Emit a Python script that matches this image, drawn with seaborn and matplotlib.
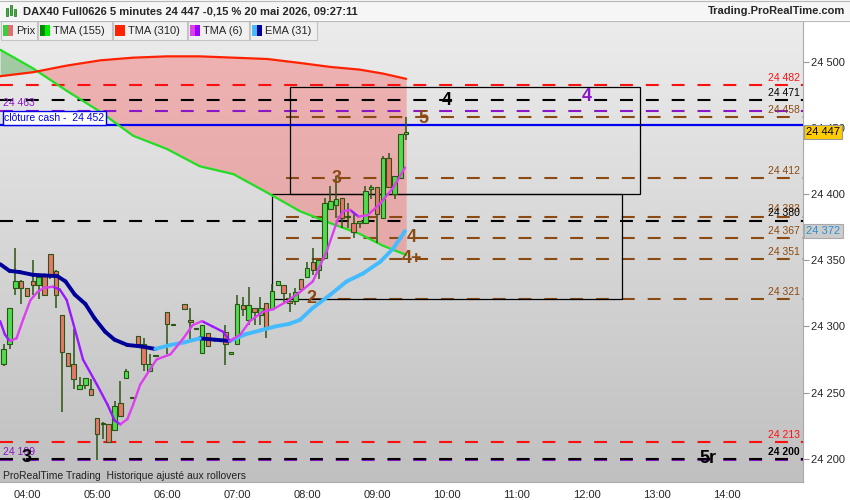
import numpy as np
import pandas as pd
import seaborn as sns
import matplotlib.pyplot as plt
import matplotlib.transforms as mtransforms
from matplotlib.patches import Rectangle
from matplotlib.colors import LinearSegmentedColormap

sns.set_style("white")
plt.rcParams['font.family'] = ['Liberation Sans', 'DejaVu Sans']

# 5 minute candles (DAX40 Full0626)
times = ["03:40", "03:45", "03:50", "03:55", "04:00", "04:05", "04:10", "04:15", "04:20", "04:25",
         "04:30", "04:35", "04:40", "04:45", "04:50", "04:55", "05:00", "05:05", "05:10", "05:15",
         "05:20", "05:25", "05:30", "05:35", "05:40", "05:45", "05:50", "06:00", "06:05", "06:15",
         "06:20", "06:25", "06:30", "06:35", "06:50", "06:55", "07:00", "07:05", "07:10", "07:15",
         "07:20", "07:25", "07:30", "07:35", "07:40", "07:45", "07:50", "07:55", "08:00", "08:05",
         "08:10", "08:15", "08:20", "08:25", "08:30", "08:35", "08:40", "08:45", "08:50", "08:55",
         "09:00", "09:05", "09:10", "09:15", "09:20", "09:25"]
opens = [24272, 24287, 24329, 24334, 24329, 24334, 24331, 24339, 24355, 24342,
         24309, 24280, 24272, 24253, 24256, 24253, 24231, 24227, 24226, 24222,
         24242, 24261, 24246, 24293, 24287, 24266, 24278, 24311, 24301, 24317,
         24305, 24298, 24280, 24295, 24296, 24279, 24287, 24316, 24305, 24314,
         24309, 24318, 24313, 24331, 24331, 24319, 24319, 24336, 24337, 24349,
         24343, 24352, 24389, 24392, 24397, 24383, 24378, 24378, 24378, 24404,
         24405, 24382, 24427, 24400, 24412, 24445]
highs = [24287, 24314, 24359, 24335, 24329, 24350, 24337, 24339, 24355, 24343,
         24309, 24280, 24298, 24262, 24261, 24260, 24231, 24228, 24226, 24244,
         24259, 24268, 24246, 24293, 24291, 24279, 24278, 24311, 24301, 24317,
         24314, 24298, 24301, 24295, 24301, 24281, 24324, 24322, 24330, 24314,
         24322, 24318, 24332, 24334, 24331, 24325, 24329, 24336, 24349, 24359,
         24350, 24397, 24406, 24414, 24397, 24393, 24386, 24380, 24406, 24407,
         24405, 24429, 24431, 24414, 24445, 24458]
lows = [24270, 24283, 24324, 24317, 24323, 24324, 24321, 24324, 24336, 24314,
        24235, 24270, 24253, 24253, 24253, 24248, 24199, 24215, 24213, 24222,
        24232, 24261, 24246, 24287, 24266, 24266, 24278, 24279, 24301, 24313,
        24290, 24298, 24280, 24285, 24271, 24279, 24287, 24308, 24301, 24301,
        24301, 24291, 24313, 24331, 24318, 24311, 24316, 24328, 24337, 24339,
        24336, 24352, 24389, 24382, 24374, 24374, 24367, 24374, 24378, 24396,
        24363, 24382, 24405, 24396, 24412, 24441]
closes = [24283, 24314, 24334, 24329, 24323, 24331, 24337, 24324, 24338, 24324,
          24281, 24270, 24260, 24256, 24261, 24248, 24219, 24226, 24213, 24240,
          24232, 24266, 24246, 24287, 24272, 24272, 24278, 24302, 24301, 24313,
          24303, 24298, 24301, 24285, 24287, 24281, 24317, 24313, 24316, 24311,
          24314, 24298, 24327, 24334, 24325, 24318, 24326, 24328, 24344, 24343,
          24350, 24393, 24395, 24396, 24382, 24383, 24371, 24380, 24402, 24405,
          24385, 24427, 24405, 24414, 24445, 24447]

# slow moving averages, TMA (155) and TMA (310)
slow_times = ["03:37", "04:05", "04:34", "05:03", "05:31", "06:00", "06:28",
              "06:57", "07:26", "07:54", "08:20", "08:45", "09:05", "09:25"]
tma155 = [24509, 24495, 24478, 24462, 24444, 24434, 24421,
          24415, 24401, 24387, 24378, 24370, 24361, 24354]
tma310 = [24489, 24492, 24497, 24501, 24503, 24504, 24504,
          24503, 24502, 24499, 24496, 24494, 24491, 24487]

# TMA (6)
tma6_times = ["03:37", "03:41", "03:45", "03:51", "03:57", "04:03", "04:09", "04:14", "04:22",
              "04:28", "04:34", "04:41", "04:48", "05:00", "05:09", "05:15", "05:20", "05:26",
              "05:31", "05:37", "05:51", "06:03", "06:14", "06:22", "06:30", "06:39", "06:48",
              "06:54", "07:03", "07:11", "07:22", "07:31", "07:43", "07:54", "08:05", "08:17",
              "08:26", "08:31", "08:37", "08:44", "08:52", "09:03", "09:14", "09:24"]
tma6 = [24304, 24294, 24289, 24291, 24306, 24320, 24326, 24329, 24330,
        24328, 24320, 24298, 24275, 24256, 24241, 24229, 24226, 24230,
        24241, 24256, 24275, 24279, 24291, 24301, 24304, 24300, 24296,
        24289, 24294, 24304, 24311, 24313, 24319, 24326, 24334, 24357,
        24380, 24387, 24388, 24383, 24384, 24393, 24405, 24420]

# EMA (31)
ema_times = ["03:37", "03:45", "03:54", "04:05", "04:15", "04:26", "04:33", "04:41", "04:50",
             "04:58", "05:07", "05:15", "05:26", "05:37", "05:50", "06:03", "06:15", "06:28",
             "06:41", "06:54", "07:07", "07:20", "07:33", "07:45", "07:54", "08:05", "08:20",
             "08:34", "08:48", "09:03", "09:14", "09:24"]
ema31 = [24347, 24342, 24341, 24339, 24338.5, 24338, 24334, 24324, 24317,
         24306, 24296, 24290, 24286, 24285, 24283, 24286, 24288, 24291,
         24290, 24289, 24294, 24297, 24300, 24302, 24305, 24314, 24324,
         24334, 24340, 24349, 24359, 24372]

# horizontal levels across the whole chart
full_levels = [24482, 24471, 24463, 24380, 24213, 24199, 24200]
full_colors = ["#ff1010", "#000000", "#8a16c8", "#000000", "#ff1010", "#8a16c8", "#000000"]
# brown levels starting at 07:45
brown_levels = [24458, 24412, 24383, 24367, 24351, 24321]
cash_close = 24452

right_labels = ["24 482", "24 471", "24 458", "24 412", "24 383", "24 380", "24 367",
                "24 351", "24 321", "24 213", "24 200"]
right_label_prices = [24482, 24471, 24458, 24412, 24383, 24380, 24367, 24351, 24321, 24213, 24200]
brown = "#8b4a12"
right_label_colors = ["#ff1010", "#000000", brown, brown, brown, "#000000", brown,
                      brown, brown, "#ff1010", "#000000"]

# wave counts
wave_texts = ["4", "4", "5", "3", "4", "4+", "2", "3", "5r"]
wave_times = ["10:00", "12:00", "09:40", "08:25", "09:30", "09:30", "08:04", "04:00", "13:44"]
wave_prices = [24471, 24474, 24457, 24412, 24367, 24351, 24321, 24201, 24200]
wave_colors = ["#000000", "#8a16c8", brown, brown, brown, brown, brown, "#000000", "#000000"]

# boxes: (start, end, low, high)
boxes = [("07:45", "12:45", 24400, 24481), ("07:30", "12:30", 24321, 24400)]

y_ticks = [24200, 24250, 24300, 24350, 24400, 24450, 24500]
x_ticks = list(range(4, 16))


def hours(ts):
    return np.array([int(t[:2]) + int(t[3:]) / 60 for t in ts])


def seg_frame(ts, vals):
    h = hours(ts)
    rows = []
    for i in range(len(vals) - 1):
        d = "up" if vals[i + 1] >= vals[i] else "down"
        rows.append((i, h[i], vals[i], d))
        rows.append((i, h[i + 1], vals[i + 1], d))
    return pd.DataFrame(rows, columns=["seg", "h", "v", "dir"])


fig = plt.figure(figsize=(8.5, 5), dpi=100)
fig.patch.set_facecolor("white")
ax = fig.add_axes([0, 18 / 500, 803 / 850, 461 / 500])
ax.set_xlim(4 - 27 / 70, 4 + 776 / 70)
ax.set_ylim(24182.5, 24530.7)

# background gradient
grad = LinearSegmentedColormap.from_list("bg", ["#c0c0c0", "#ececec"])
ax.imshow(np.linspace(0, 1, 256).reshape(-1, 1), cmap=grad, aspect="auto",
          extent=[0, 1, 0, 1], transform=ax.transAxes, origin="lower", zorder=0)

# fill between the two slow averages
sh = hours(slow_times)
t155 = np.array(tma155, float)
t310 = np.array(tma310, float)
ax.fill_between(sh, t155, t310, where=t310 >= t155, interpolate=True,
                color="#f47c7c", alpha=0.5, lw=0, zorder=1)
ax.fill_between(sh, t155, t310, where=t310 < t155, interpolate=True,
                color="#5fae5f", alpha=0.5, lw=0, zorder=1)

# levels
xl = ax.get_xlim()
dash = (0, (6.2, 6.2))
for p, col in zip(full_levels, full_colors):
    ax.hlines(p, xl[0], xl[1], colors=col, linestyles=[dash], lw=1.5, zorder=2)
ax.hlines(brown_levels, 7.70, xl[1], colors=brown, linestyles=[dash], lw=1.5, zorder=2)
ax.axhline(cash_close, color="#0000ee", lw=1.6, zorder=2)

for st, en, lo_, hi_ in boxes:
    a, b = hours([st, en])
    ax.add_patch(Rectangle((a, lo_), b - a, hi_ - lo_, fill=False, ec="black", lw=0.9, zorder=2))

# slow averages
sns.lineplot(x=sh, y=t155, color="#22dd22", lw=1.6, ax=ax, zorder=3)
sns.lineplot(x=sh, y=t310, color="#ff2200", lw=1.6, ax=ax, zorder=3)

# candles
ch = hours(times)
o = np.array(opens, float)
c = np.array(closes, float)
hi = np.array(highs, float)
lo = np.array(lows, float)
up = c >= o
wick = "#2a5512"
bb = np.minimum(o, c)
bh = np.maximum(np.abs(c - o), 0.7)
ax.vlines(ch, lo, hi, color=wick, lw=1.1, zorder=4)
ax.bar(ch[up], bh[up], bottom=bb[up], width=0.064, color="#4fdc4f", edgecolor=wick, lw=0.8, zorder=5)
ax.bar(ch[~up], bh[~up], bottom=bb[~up], width=0.064, color="#e8766a", edgecolor=wick, lw=0.8, zorder=5)

# fast averages coloured by direction
sns.lineplot(data=seg_frame(ema_times, ema31), x="h", y="v", hue="dir", units="seg",
             estimator=None, sort=False, palette={"up": "#45bbff", "down": "#000099"},
             lw=2.8, legend=False, ax=ax, zorder=6, solid_capstyle="round")
sns.lineplot(data=seg_frame(tma6_times, tma6), x="h", y="v", hue="dir", units="seg",
             estimator=None, sort=False, palette={"up": "#dd3ff0", "down": "#9a18ff"},
             lw=1.7, legend=False, ax=ax, zorder=6, solid_capstyle="round")

# level labels on the right
for txt, p, col in zip(right_labels, right_label_prices, right_label_colors):
    ax.annotate(txt, xy=(4 + 773 / 70, p), xytext=(0, 1.5), textcoords="offset points",
                ha="right", va="bottom", fontsize=7.5, color=col,
                fontweight="bold" if txt == "24 200" else "normal", zorder=8)

# labels on the left
ax.annotate("24 463", xy=(xl[0], 24463), xytext=(2, 2), textcoords="offset points",
            ha="left", va="bottom", fontsize=7.5, color="#8a16c8", zorder=8)
ax.annotate("24 199", xy=(xl[0], 24199), xytext=(2, 2), textcoords="offset points",
            ha="left", va="bottom", fontsize=7.5, color="#8a16c8", zorder=8)
ax.annotate("clôture cash -  24 452", xy=(xl[0], cash_close), xytext=(3, 1.6),
            textcoords="offset points", ha="left", va="bottom", fontsize=7.5, color="#0000ee",
            bbox=dict(boxstyle="square,pad=0.15", fc="white", ec="#0000ee", lw=1), zorder=9)

# wave counts
for txt, t, p, col in zip(wave_texts, wave_times, wave_prices, wave_colors):
    ax.text(hours([t])[0], p, txt, ha="center", va="center", fontsize=13,
            fontweight="bold", color=col, zorder=9)

ax.text(0.004, 0.013, "ProRealTime Trading  Historique ajusté aux rollovers",
        transform=ax.transAxes, fontsize=7.5, color="#222222", va="center", zorder=9)

# axes
ax.yaxis.tick_right()
ax.set_yticks(y_ticks)
ax.set_yticklabels([f"{v // 1000} {v % 1000:03d}" for v in y_ticks], fontsize=8)
ax.set_xticks(x_ticks)
ax.set_xticklabels([f"{h:02d}:00" if h < 15 else "" for h in x_ticks], fontsize=8)
ax.tick_params(axis="both", length=4, color="#999999", direction="out", pad=2)
ax.set_xlabel("")
ax.set_ylabel("")
for side in ["top", "left"]:
    ax.spines[side].set_visible(False)
for side in ["right", "bottom"]:
    ax.spines[side].set_color("#aaaaaa")

# value tags on the price axis
tr = mtransforms.blended_transform_factory(ax.transAxes, ax.transData)
ax.text(1.004, closes[-1], "24 447", transform=tr, ha="left", va="center", fontsize=8,
        color="black", bbox=dict(boxstyle="square,pad=0.2", fc="#ffcc00", ec="#999999", lw=0.8),
        zorder=10, clip_on=False)
ax.text(1.004, ema31[-1], "24 372", transform=tr, ha="left", va="center", fontsize=8,
        color="#2a8fd0", bbox=dict(boxstyle="square,pad=0.2", fc="#cccccc", ec="#aaaaaa", lw=0.8),
        zorder=10, clip_on=False)

# header and legend row (pixel overlay)
ov = fig.add_axes([0, 0, 1, 1], facecolor="none")
ov.set_xlim(0, 850)
ov.set_ylim(500, 0)
ov.axis("off")
ov.add_patch(Rectangle((0, 0), 850, 20, fc="#f6f6f6", ec="none"))
ov.plot([0, 850], [20.5, 20.5], color="#b8b8b8", lw=0.8)
ov.plot([0, 850], [0.5, 0.5], color="#b8b8b8", lw=0.8)
for x0, h0, y0 in [(6, 8, 8), (10, 10, 5), (14, 7, 9)]:
    ov.add_patch(Rectangle((x0, y0), 2.5, h0, fc="#33bb33", ec="#226622", lw=0.5))
ov.text(23, 11, "DAX40 Full0626 5 minutes 24 447 -0,15 % 20 mai 2026, 09:27:11",
        fontsize=8, fontweight="bold", va="center", ha="left")
ov.text(845, 11, "Trading.ProRealTime.com", fontsize=8, fontweight="bold", va="center", ha="right")

legend_items = [("Prix", 1, 37, "#3ccc3c", "#e07070"),
                ("TMA (155)", 38, 112, "#008800", "#00ee00"),
                ("TMA (310)", 113, 187, "#ff2200", "#ff2200"),
                ("TMA (6)", 188, 249, "#dd3ff0", "#9900ff"),
                ("EMA (31)", 250, 317, "#45bbff", "#000099")]
for name, a, b, c1, c2 in legend_items:
    ov.add_patch(Rectangle((a, 21), b - a, 19, fc="#f0f0f0", ec="#c4c4c4", lw=0.8))
    ov.add_patch(Rectangle((a + 2, 25), 5, 11, fc=c1, ec="none"))
    ov.add_patch(Rectangle((a + 7, 25), 5, 11, fc=c2, ec="none"))
    ov.text(a + 15, 31, name, fontsize=8, va="center", ha="left")

fig.savefig("out.png", dpi=100)
